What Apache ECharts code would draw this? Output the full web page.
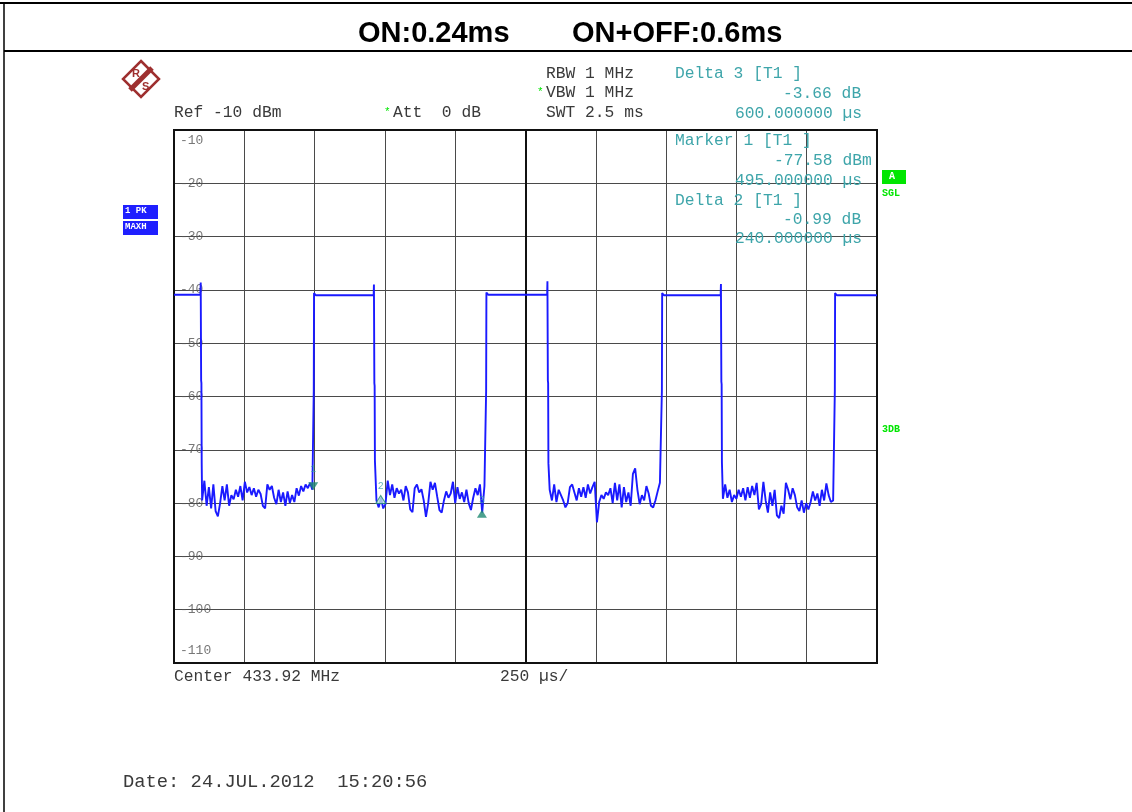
<!DOCTYPE html>
<html>
<head>
<meta charset="utf-8">
<script src="https://cdn.jsdelivr.net/npm/echarts@6/dist/echarts.min.js"></script>
<style>
  html, body { margin: 0; padding: 0; background: #fff; }
  #chart { width: 1132px; height: 812px; }
</style>
</head>
<body>
<div id="chart"></div>
<script>
// ---------- data ----------
const yTicks = [-10, -20, -30, -40, -50, -60, -70, -80, -90, -100, -110];
const xMinUs = 0, xMaxUs = 2500, xDivUs = 250;

// pulse edges (µs) and levels (dBm)
const fallUs   = [95, 711, 1328, 1945];
const riseUs   = [497, 1110, 1735, 2350];
const onLevel  = [-40.9, -41.0, -40.9, -41.0, -41.0];
const spikeTop = [-38.6, -39.0, -38.4, -38.9];
const fallKnee = [-57.0, -57.5, -57.0, -57.2];
const fallLow  = [-72.5, -72.0, -72.5, -72.3];
const riseOver = [-40.6, -40.5, -40.6, -40.6];

// noise floor during OFF periods, sampled every 8 µs
const noiseStep  = 8;
const noiseStart = [100, 720, 1336, 1952];
const noise1 = [-79.5,-75.8,-80.5,-77,-81,-76.5,-81.5,-82.5,-80,-76.8,-79.5,-76.5,-80.5,-78.5,-79.3,-77.5,-78.8,-76.8,-79.5,-76,-78,-77,-78.5,-77.2,-78.8,-77.5,-78.3,-80.5,-81,-76.5,-77.5,-76.8,-79,-80.2,-77.5,-79.8,-78,-80.5,-77.8,-80,-78.5,-79.8,-77.2,-78.6,-76.8,-77.8,-76.5,-77.2,-76.2,-77.5];
const noise2 = [-79.5,-80.8,-79,-81,-80.2,-75.8,-78.5,-76.5,-79,-77.2,-78.2,-77.5,-79.5,-76.8,-78,-81.2,-81.7,-77.2,-76.5,-78,-77.4,-79.5,-82.6,-80,-76,-77.5,-76.2,-78.8,-81.3,-81.8,-79.5,-77.8,-79,-78.2,-76,-80,-77,-79.2,-78,-79.8,-77.5,-80,-81.3,-79,-77.2,-78.5,-76.5,-81.8,-76.8];
const noise3 = [-77.5,-79.5,-76.5,-79.8,-77.5,-78.5,-79.5,-80.8,-80,-77,-76.5,-78,-79.5,-77.2,-78.8,-77,-79,-76.5,-78.2,-77,-76,-83.6,-79.8,-78.5,-79.2,-78,-78.5,-77.2,-80,-76.2,-79.5,-76.5,-80.8,-77,-79.8,-78,-80.5,-74.5,-73.5,-77.5,-80.2,-78.5,-79.5,-76.8,-78.2,-80.5,-80.8,-79.5,-77.8,-76.2];
const noise4 = [-79.2,-76.5,-79,-77.5,-79.8,-78.5,-79.2,-77.5,-78.8,-77.2,-79.5,-77,-79,-76.8,-78.5,-76.2,-81.2,-80.2,-76,-79.5,-81.8,-78,-80.5,-77.5,-82.3,-82.8,-80.5,-82,-76.2,-77.5,-79.3,-77.2,-78.5,-80.8,-81.5,-79.5,-81.8,-80,-81.2,-79.8,-77.8,-79.5,-78.2,-80.5,-77.5,-79.5,-76.3,-78.5,-79.8,-79.5];
const noiseSegs = [noise1, noise2, noise3, noise4];

// markers
const markerNames = ['1', '2', '3'];
const markerUs    = [495, 735, 1095];
const markerDbm   = [-77.58, -78.57, -81.24];

// ---------- build trace ----------
const trace = [[xMinUs, onLevel[0]]];
for (let i = 0; i < fallUs.length; i++) {
  const f = fallUs[i];
  trace.push([f - 1, onLevel[i]], [f, spikeTop[i]], [f + 1.5, fallKnee[i]], [f + 2.5, fallKnee[i] - 0.5],
             [f + 3.5, fallLow[i]]);
  noiseSegs[i].forEach((v, k) => trace.push([noiseStart[i] + k * noiseStep, v]));
  const r = riseUs[i];
  trace.push([r, -59], [r + 1, riseOver[i]], [r + 7, onLevel[i + 1]]);
}
trace.push([xMaxUs, onLevel[onLevel.length - 1]]);

const MONO = '"Liberation Mono", "DejaVu Sans Mono", monospace';
const TXT = '#3a3a3a';
const TEAL = '#3ea5aa';
const GREEN = '#00e600';

function t(x, y, text, opt) {
  opt = opt || {};
  const size = opt.size || 16.3;
  return {
    type: 'text', left: x, top: y - size * 0.6, z: 10,
    style: { text: text, font: (opt.weight || 'normal') + ' ' + size + 'px ' + (opt.family || MONO),
             fill: opt.color || TXT }
  };
}

const graphics = [
  // frame
  { type: 'line', shape: { x1: 0, y1: 3, x2: 1132, y2: 3 }, style: { stroke: '#000', lineWidth: 2 } },
  { type: 'line', shape: { x1: 4, y1: 3, x2: 4, y2: 812 }, style: { stroke: '#000', lineWidth: 1.5 } },
  { type: 'line', shape: { x1: 4, y1: 51, x2: 1132, y2: 51 }, style: { stroke: '#000', lineWidth: 2 } },
  // title
  t(358, 37, 'ON:0.24ms', { size: 29, weight: 'bold', family: '"Liberation Sans", Arial, sans-serif', color: '#000' }),
  t(572, 37, 'ON+OFF:0.6ms', { size: 29, weight: 'bold', family: '"Liberation Sans", Arial, sans-serif', color: '#000' }),
  // R&S logo
  { type: 'polygon', shape: { points: [[141, 61], [159, 79], [141, 97], [123, 79]] },
    style: { fill: '#fff', stroke: '#9e2f2f', lineWidth: 2.5 } },
  { type: 'line', shape: { x1: 130, y1: 90, x2: 152, y2: 68 }, style: { stroke: '#9e2f2f', lineWidth: 5 } },
  t(132, 75, 'R', { size: 11, color: '#9e2f2f', family: '"Liberation Sans", sans-serif', weight: 'bold' }),
  t(142, 88, 'S', { size: 11, color: '#9e2f2f', family: '"Liberation Sans", sans-serif', weight: 'bold' }),
  // setting texts
  t(546, 75, 'RBW 1 MHz'),
  t(537, 93, '*', { size: 11, color: GREEN }),
  t(546, 94, 'VBW 1 MHz'),
  t(546, 114, 'SWT 2.5 ms'),
  t(174, 114, 'Ref -10 dBm'),
  t(384, 113, '*', { size: 11, color: GREEN }),
  t(393, 114, 'Att  0 dB'),
  // marker readouts
  t(675, 75, 'Delta 3 [T1 ]', { color: TEAL }),
  t(783, 95, '-3.66 dB', { color: TEAL }),
  t(735, 115, '600.000000 µs', { color: TEAL }),
  t(675, 142, 'Marker 1 [T1 ]', { color: TEAL }),
  t(774, 162, '-77.58 dBm', { color: TEAL }),
  t(735, 182, '495.000000 µs', { color: TEAL }),
  t(675, 202, 'Delta 2 [T1 ]', { color: TEAL }),
  t(783, 221, '-0.99 dB', { color: TEAL }),
  t(735, 240, '240.000000 µs', { color: TEAL }),
  // right side indicators
  { type: 'rect', shape: { x: 882, y: 170, width: 24, height: 14 }, style: { fill: GREEN } },
  t(889, 177, 'A', { size: 10, color: '#fff', weight: 'bold' }),
  t(882, 194, 'SGL', { size: 10, color: GREEN, weight: 'bold' }),
  t(882, 430, '3DB', { size: 10, color: GREEN, weight: 'bold' }),
  // left trace box
  { type: 'rect', shape: { x: 123, y: 205, width: 35, height: 14 }, style: { fill: '#1f1fff' } },
  { type: 'rect', shape: { x: 123, y: 221, width: 35, height: 14 }, style: { fill: '#1f1fff' } },
  t(125, 212, '1 PK', { size: 9, color: '#fff', weight: 'bold' }),
  t(125, 228, 'MAXH', { size: 9, color: '#fff', weight: 'bold' }),
  // bottom texts
  t(174, 678, 'Center 433.92 MHz'),
  t(500, 678, '250 µs/'),
  t(123, 784, 'Date: 24.JUL.2012  15:20:56', { size: 18.8 })
];

const labelData = yTicks.map((v, i) => ({
  value: [xMinUs, v],
  label: { offset: i === 0 ? [0, 11] : (i === yTicks.length - 1 ? [0, -12] : [0, 0]) }
}));

const markerSymbols = markerNames.map((n, i) => ({
  value: [markerUs[i], markerDbm[i]],
  name: n,
  symbolRotate: i === 0 ? 180 : 0,
  symbolOffset: i === 0 ? [0, -4] : [0, 4],
  itemStyle: i === 1 ? { color: '#bfe6dc', borderColor: '#1f8a72', borderWidth: 1 } : { color: '#1f8a72' },
  label: { offset: i === 0 ? [0, -4] : [0, 0] }
}));

const chart = echarts.init(document.getElementById('chart'), null, { renderer: 'canvas' });
chart.setOption({
  backgroundColor: '#fff',
  animation: false,
  grid: { left: 174, top: 130, width: 703, height: 533, show: true, borderColor: '#111', borderWidth: 2, backgroundColor: 'transparent', z: 3 },
  xAxis: {
    type: 'value', min: xMinUs, max: xMaxUs, interval: xDivUs,
    axisLine: { show: false }, axisTick: { show: false }, axisLabel: { show: false },
    splitLine: { show: true, lineStyle: { color: '#4a4a4a', width: 1 } }
  },
  yAxis: {
    type: 'value', min: yTicks[yTicks.length - 1], max: yTicks[0], interval: 10,
    axisLine: { show: false }, axisTick: { show: false }, axisLabel: { show: false },
    splitLine: { show: true, lineStyle: { color: '#4a4a4a', width: 1 } }
  },
  graphic: graphics,
  series: [
    {
      type: 'scatter', data: labelData, symbolSize: 0, silent: true, z: 4,
      label: { show: true, position: 'right', distance: 6, formatter: p => String(p.value[1]),
               fontFamily: MONO, fontSize: 13, color: '#555' },
      markLine: {
        silent: true, symbol: ['none', 'none'], label: { show: false },
        lineStyle: { color: '#111', width: 2, type: 'solid' },
        data: [{ xAxis: (xMinUs + xMaxUs) / 2 }]
      }
    },
    {
      type: 'line', data: trace, showSymbol: false, z: 5,
      lineStyle: { color: '#1a1aff', width: 1.9 }, itemStyle: { color: '#1a1aff' }
    },
    {
      type: 'scatter', data: markerSymbols, symbol: 'triangle', symbolSize: [10, 8], z: 6,
      label: { show: true, position: 'top', distance: 4, formatter: p => p.name, fontFamily: MONO, fontSize: 10, color: TEAL }
    }
  ]
});
</script>
</body>
</html>
